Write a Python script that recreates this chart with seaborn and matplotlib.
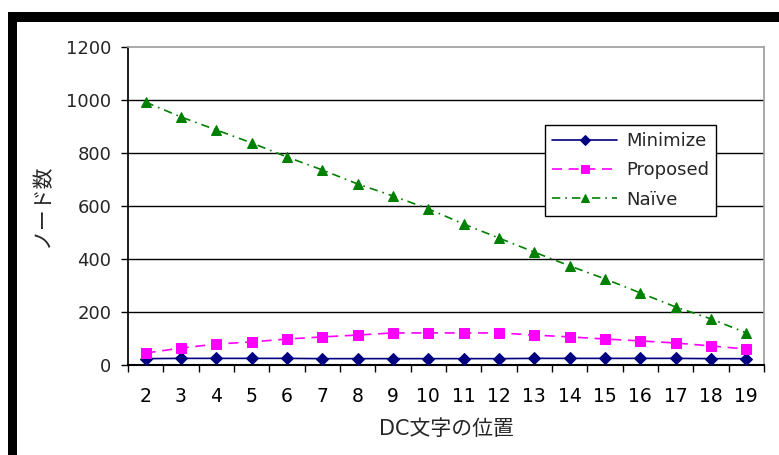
import matplotlib
matplotlib.use("Agg")
import matplotlib.pyplot as plt
import seaborn as sns
import pandas as pd
from matplotlib.patches import Rectangle

# Data: node counts per DC character position
positions = list(range(2, 20))
minimize = [24, 25, 25, 25, 25, 24, 24, 24, 24, 24, 24, 25, 25, 25, 25, 25, 24, 24]
proposed = [45, 64, 79, 87, 98, 106, 113, 121, 121, 121, 121, 113, 106, 98, 91, 83, 72, 60]
naive = [992, 936, 887, 838, 785, 736, 683, 638, 589, 532, 479, 426, 374, 325, 272, 219, 174, 121]
series_names = ["Minimize", "Proposed", "Naïve"]
y_ticks = [0, 200, 400, 600, 800, 1000, 1200]

df = pd.DataFrame({
    "pos": positions * 3,
    "nodes": minimize + proposed + naive,
    "method": [series_names[0]] * 18 + [series_names[1]] * 18 + [series_names[2]] * 18,
})

sns.set_theme(style="white")
plt.rcParams["font.family"] = ["DejaVu Sans", "Noto Sans CJK JP"]

W, H = 779, 455
fig = plt.figure(figsize=(W / 100, H / 100), dpi=100)
ax = fig.add_axes([128 / W, (H - 365) / H, (764 - 128) / W, (365 - 47) / H])

palette = {"Minimize": "#000080", "Proposed": "#FF00FF", "Naïve": "#008000"}
markers = {"Minimize": "D", "Proposed": "s", "Naïve": "^"}
dashes = {"Minimize": "", "Proposed": (6, 4), "Naïve": (5, 3, 1, 3)}
sizes = {"Minimize": 6, "Proposed": 7, "Naïve": 7}

for name in series_names:
    sub = df[df["method"] == name]
    sns.lineplot(data=sub, x="pos", y="nodes", ax=ax, color=palette[name],
                 marker=markers[name], markersize=sizes[name],
                 markeredgecolor=palette[name], linewidth=1.2,
                 dashes=False, label=name, zorder=3)
    line = ax.get_lines()[-1]
    if dashes[name]:
        line.set_dashes(dashes[name])

ax.set_xlim(1.5, 19.5)
ax.set_ylim(0, 1200)
ax.set_xticks(positions)
ax.set_xticklabels([str(p) for p in positions], fontsize=13.5)
ax.set_xticks([p + 0.5 for p in range(1, 20)], minor=True)
ax.set_yticks(y_ticks)
ax.set_yticklabels([str(v) for v in y_ticks], fontsize=13)
ax.tick_params(axis="x", which="major", length=0, pad=16, colors="#000000")
ax.tick_params(axis="x", which="minor", bottom=True, length=5, width=1, color="#000000")
ax.tick_params(axis="y", which="major", left=True, length=5, width=1, pad=7, color="#000000")

for v in y_ticks[1:-1]:
    ax.axhline(v, color="#000000", linewidth=1.0, zorder=1)

ax.spines["left"].set_color("#000000")
ax.spines["bottom"].set_color("#000000")
ax.spines["bottom"].set_linewidth(1.5)
ax.spines["top"].set_color("#a0a0a0")
ax.spines["right"].set_color("#a0a0a0")

ax.set_xlabel("DC文字の位置", fontsize=15, labelpad=9)
ax.set_ylabel("ノード数", fontsize=15, labelpad=10)

leg = ax.legend(loc="upper left", bbox_to_anchor=((545 - 128) / 636, (365 - 125) / 318),
                fontsize=13, frameon=True, fancybox=False, edgecolor="#000000",
                framealpha=1, borderpad=0.4, handlelength=3.6, handletextpad=0.5,
                labelspacing=0.62, borderaxespad=0, markerscale=0.8)
leg.get_frame().set_linewidth(1.0)

# Black frame bars along the top and left edges
fig.patches.append(Rectangle((8 / W, 0), 9 / W, (H - 12) / H, transform=fig.transFigure,
                             facecolor="#000000", edgecolor="none"))
fig.patches.append(Rectangle((8 / W, (H - 22) / H), (W - 8) / W, 10 / H, transform=fig.transFigure,
                             facecolor="#000000", edgecolor="none"))

fig.savefig("out.png", dpi=100)
